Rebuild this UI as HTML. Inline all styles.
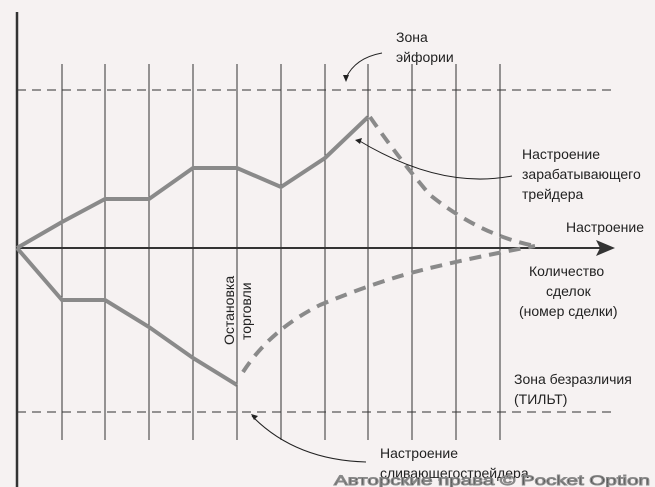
<!DOCTYPE html>
<html><head><meta charset="utf-8"><style>
html,body{margin:0;padding:0;background:#f6f2f2;}
svg{display:block;}
text{font-family:"Liberation Sans","DejaVu Sans",sans-serif;font-size:14px;fill:#222;}
</style></head><body>
<svg width="655" height="487" viewBox="0 0 655 487" xmlns="http://www.w3.org/2000/svg">
<rect width="655" height="487" fill="#f6f2f2"/>
<g stroke="#333" stroke-width="1">
<line x1="62" y1="64" x2="62" y2="440"/><line x1="105" y1="64" x2="105" y2="440"/>
<line x1="149" y1="64" x2="149" y2="440"/><line x1="193" y1="64" x2="193" y2="440"/>
<line x1="237" y1="64" x2="237" y2="440"/><line x1="281" y1="64" x2="281" y2="440"/>
<line x1="325" y1="64" x2="325" y2="440"/><line x1="368" y1="64" x2="368" y2="440"/>
<line x1="412" y1="64" x2="412" y2="440"/><line x1="456" y1="64" x2="456" y2="440"/>
<line x1="500" y1="64" x2="500" y2="440"/>
</g>
<g stroke="#333" stroke-width="1" stroke-dasharray="9,6">
<line x1="17" y1="90" x2="612" y2="90"/><line x1="17" y1="412" x2="612" y2="412"/>
</g>
<line x1="17" y1="12" x2="17" y2="487" stroke="#333" stroke-width="2.5"/>
<line x1="17" y1="248" x2="605" y2="248" stroke="#333" stroke-width="2"/>
<polygon points="615,248 596,240 600,248 596,256" fill="#333"/>
<g fill="none" stroke="#8a8a8a" stroke-width="4" stroke-linejoin="miter">
<polyline points="17,248 62,222 105,199 149,199 193,168 237,168 281,187 325,158 368,117"/>
<polyline points="17,248 62,300 105,300 149,327 193,358 237,385"/>
</g>
<g fill="none" stroke="#8a8a8a" stroke-width="4" stroke-dasharray="12,8">
<path d="M370,117 Q400,160 430,195 Q480,235 535,246"/>
<path d="M243,372 Q270,330 320,305 Q380,280 430,268 Q480,256 535,246"/>
</g>
<g fill="none" stroke="#222" stroke-width="1">
<path d="M382,53 Q355,58 346,78"/>
<path d="M512,176 Q440,190 358,140"/>
<path d="M366,462 Q295,460 252,416"/>
</g>
<polygon points="346,82 343,75 349,75" fill="#222"/>
<polygon points="355,140 362,138 360,144" fill="#222"/>
<polygon points="251,414 258,416 254,420" fill="#222"/>
<text x="396" y="42">Зона</text>
<text x="396" y="62">эйфории</text>
<text x="522" y="159">Настроение</text>
<text x="522" y="179">зарабатывающего</text>
<text x="522" y="199">трейдера</text>
<text x="566" y="232">Настроение</text>
<text x="529" y="276">Количество</text>
<text x="546" y="296">сделок</text>
<text x="519" y="316">(номер сделки)</text>
<text x="514" y="384">Зона безразличия</text>
<text x="514" y="404">(ТИЛЬТ)</text>
<text x="380" y="458">Настроение</text>
<text x="380" y="478">сливающегострейдера</text>
<text transform="translate(234,345) rotate(-90)">Остановка</text>
<text transform="translate(251,340) rotate(-90)">торговли</text>
<text x="334" y="485" font-size="23" textLength="316" lengthAdjust="spacingAndGlyphs" fill="#f6f2f2" stroke="#888" stroke-width="1">Авторские права © Pocket Option</text>
</svg>
</body></html>
